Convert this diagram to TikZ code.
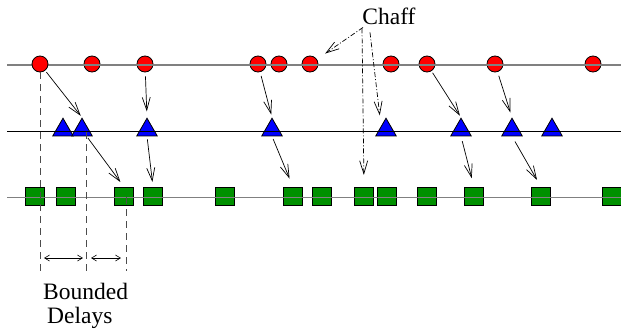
\documentclass[tikz,border=0pt]{standalone}
\usepackage{fontspec}
\setmainfont{Liberation Serif}
\usetikzlibrary{shapes.geometric,arrows.meta}
\definecolor{fgreen}{RGB}{0,144,0}
\begin{document}
\begin{tikzpicture}[x=1pt,y=-1pt,
  circ/.style={circle,draw=black,fill=red,minimum size=16pt,inner sep=0pt,line width=0.8pt},
  tri/.style={regular polygon,regular polygon sides=3,draw=black,fill=blue,minimum size=23.6pt,inner sep=0pt,line width=0.8pt},
  sq/.style={rectangle,draw=black,fill=fgreen,minimum size=18.4pt,inner sep=0pt,line width=0.8pt},
  grayline/.style={draw=gray,line width=1.5pt},
  blackline/.style={draw=black,line width=1pt},
  arr/.style={-{Straight Barb[length=13pt,width=8pt]},line width=0.7pt},
  chaffarr/.style={arr,dash pattern=on 5pt off 2pt on 1pt off 2pt},
  delay/.style={draw=black!70,dash pattern=on 7pt off 5pt,line width=0.8pt},
  span/.style={{Straight Barb[length=5pt,width=6pt]}-{Straight Barb[length=5pt,width=6pt]},line width=0.6pt},
  lbl/.style={font=\fontsize{23.5}{28}\selectfont,inner sep=0pt}
]
\useasboundingbox (0,0) rectangle (621,335);
% line end coordinates
\coordinate (l1a) at (7,65);   \coordinate (l1b) at (621,65);
\coordinate (l2a) at (7,131.5);  \coordinate (l2b) at (621,131.5);
\coordinate (l3a) at (7,197.5);  \coordinate (l3b) at (621,197.5);
% circles (except first)
\foreach \n/\x in {2/92,3/145,4/258,5/279,6/310,7/391,8/427,9/495,10/593}
  \node[circ] (c\n) at (\x,64) {};
% triangles
\foreach \n/\x in {1/63,2/82,3/147,4/272,5/386,6/461,7/512,8/552}
  \node[tri] (t\n) at (\x,130) {};
% squares
\foreach \n/\x in {1/35,2/66,3/124,4/153,5/225,6/293,7/322,8/364,9/387,10/427,11/474,12/541,13/612}
  \node[sq] (s\n) at (\x,196.5) {};
% lines
\draw[grayline] (l1a) -- (l1b);
\draw[blackline] (l2a) -- (l2b);
\draw[grayline] (l3a) -- (l3b);
\node[circ] (c1) at (40,64) {};
% arrows
\draw[arr,shorten <=2pt,shorten >=2pt] (c1) -- (t2.north);
\draw[arr,shorten <=4pt,shorten >=6pt] (c3) -- (t3.north);
\draw[arr,shorten <=4pt,shorten >=3pt] (c4) -- (t4.north);
\draw[arr,shorten <=2pt,shorten >=6pt] (t2) -- (s3.north);
\draw[arr,shorten <=3pt,shorten >=5pt] (t3.south) -- (s4.north);
\draw[arr,shorten <=3pt,shorten >=9pt] (t4.south) -- (s6.north);
\draw[arr,shorten <=2pt,shorten >=2pt] (c8) -- (t6.north);
\draw[arr,shorten <=4pt,shorten >=5pt] (c9) -- (t7.north);
\draw[arr,shorten <=5pt,shorten >=9pt] (t6.south) -- (s11.north);
\draw[arr,shorten <=6pt,shorten >=8pt] (t7.south) -- (s12.north);
% chaff
\node[lbl,anchor=base] (chaff) at (389,24) {Chaff};
\draw[chaffarr,shorten >=10pt] ([xshift=-26pt,yshift=-3pt]chaff.south) -- (c6);
\draw[chaffarr,shorten >=2pt] ([xshift=-19pt,yshift=-8pt]chaff.south) -- ([xshift=-6pt]t5.north);
\draw[chaffarr,shorten >=12pt] ([xshift=-27pt,yshift=-4pt]chaff.south) -- (s8.north);
% bounded delays
\coordinate (d1) at (40,274);
\coordinate (d2a) at (86,132); \coordinate (d2b) at (86,274);
\coordinate (d3a) at (126,197); \coordinate (d3b) at (126,271);
\draw[delay] (c1.south) -- (d1);
\draw[delay] (d2a) -- (d2b);
\draw[delay] (d3a) -- (d3b);
\coordinate (b1) at (44,258); \coordinate (b2) at (83,258);
\coordinate (b3) at (91,258); \coordinate (b4) at (121,258);
\draw[span] (b1) -- (b2);
\draw[span] (b3) -- (b4);
\node[lbl,anchor=base west] (bnd) at (43,299) {Bounded};
\node[lbl,anchor=base west] (dly) at (47,323) {Delays};
\end{tikzpicture}
\end{document}
